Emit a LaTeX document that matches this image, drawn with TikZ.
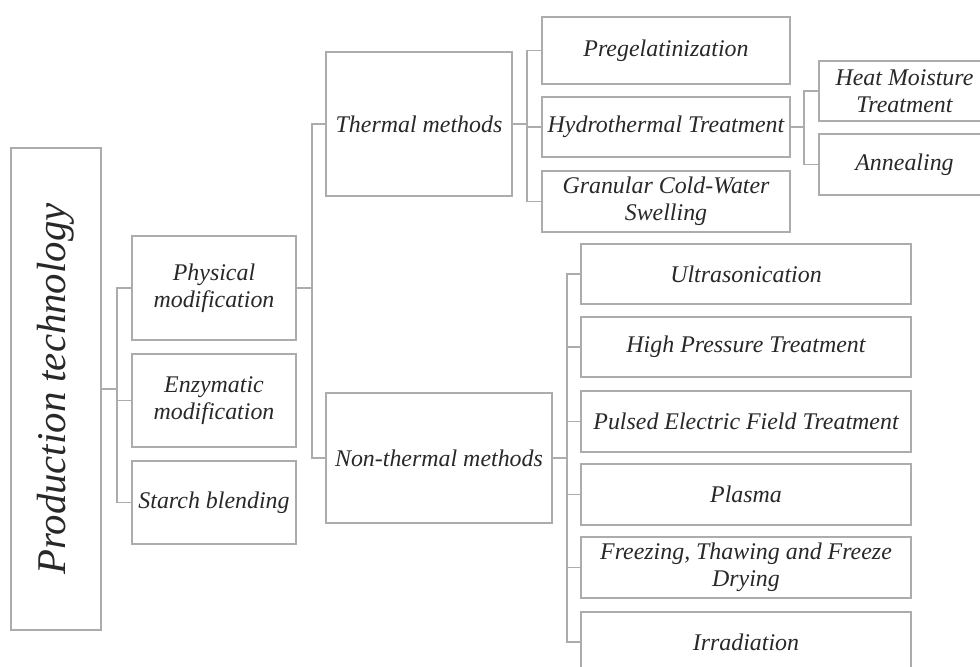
\documentclass[tikz,border=0pt]{standalone}
\usepackage{fontspec}
\setmainfont{Liberation Serif}
\usepackage{tikz}
\usetikzlibrary{shapes}
\usetikzlibrary{positioning}
\definecolor{linegray}{RGB}{172,172,172}
\definecolor{textgray}{RGB}{40,40,40}
\tikzstyle{boite}=[
        draw=linegray,
        line width=0.9pt,
        rectangle,
        align=center,
        inner sep=0pt,
        text=textgray,
        font=\itshape\fontsize{17}{19}\selectfont
]
\tikzstyle{racine}=[boite,rotate=90,font=\itshape\fontsize{29}{31}\selectfont]
\tikzstyle{feuille}=[boite,minimum width=8.25cm,minimum height=1.5cm]
\tikzstyle{lien}=[draw=linegray,line width=0.9pt]

\begin{document}
\begin{tikzpicture}[x=0.025cm,y=-0.025cm]
\useasboundingbox (0,0) rectangle (980,666);
\clip (0,0) rectangle (980,666);
\node[racine,minimum width=12.05cm,minimum height=2.25cm] (a) at (56,389) {Production technology};
\node[boite,minimum width=4.1cm,minimum height=2.6cm] (b) at (214,288) {Physical\\modification};
\node[boite,minimum width=4.1cm,minimum height=2.325cm] (c) at (214,400.5) {Enzymatic\\modification};
\node[boite,minimum width=4.1cm,minimum height=2.075cm] (d) at (214,502.5) {Starch blending};
\node[boite,minimum width=4.65cm,minimum height=3.6cm] (th) at (419,124) {Thermal methods};
\node[boite,minimum width=5.65cm,minimum height=3.25cm] (nt) at (439,458) {Non-thermal methods};
\node[boite,minimum width=6.2cm,minimum height=1.675cm] (e) at (666,50.5) {Pregelatinization};
\node[boite,minimum width=6.2cm,minimum height=1.5cm] (f) at (666,127) {Hydrothermal Treatment};
\node[boite,minimum width=6.2cm,minimum height=1.525cm] (g) at (666,201.5) {Granular Cold-Water\\Swelling};
\node[boite,minimum width=4.275cm,minimum height=1.5cm] (h) at (904.5,91) {Heat Moisture\\Treatment};
\node[boite,minimum width=4.275cm,minimum height=1.525cm] (i) at (904.5,164.5) {Annealing};
\node[feuille] (j) at (746,274) {Ultrasonication};
\node[feuille] (k) at (746,347) {High Pressure Treatment};
\node[feuille,minimum height=1.525cm] (l) at (746,421.5) {Pulsed Electric Field Treatment};
\node[feuille,minimum height=1.525cm] (m) at (746,494.5) {Plasma};
\node[feuille,minimum height=1.525cm] (n) at (746,567.5) {Freezing, Thawing and Freeze\\Drying};
\node[feuille] (o) at (746,642) {Irradiation};
%branchements
\coordinate (p1) at (117,389);
\coordinate (p2) at (312,288);
\coordinate (p3) at (527,124);
\coordinate (p4) at (804,127);
\coordinate (p5) at (567,458);
\draw[lien] (a) -- (p1);
\draw[lien] (p1) |- (b);
\draw[lien] (p1) |- (c);
\draw[lien] (p1) |- (d);
\draw[lien] (b) -- (p2);
\draw[lien] (p2) |- (th);
\draw[lien] (p2) |- (nt);
\draw[lien] (th) -- (p3);
\draw[lien] (p3) |- (e);
\draw[lien] (p3) |- (f);
\draw[lien] (p3) |- (g);
\draw[lien] (f) -- (p4);
\draw[lien] (p4) |- (h);
\draw[lien] (p4) |- (i);
\draw[lien] (nt) -- (p5);
\foreach \x in {j,k,l,m,n,o}
  \draw[lien] (p5) |- (\x);
\end{tikzpicture}
\end{document}
